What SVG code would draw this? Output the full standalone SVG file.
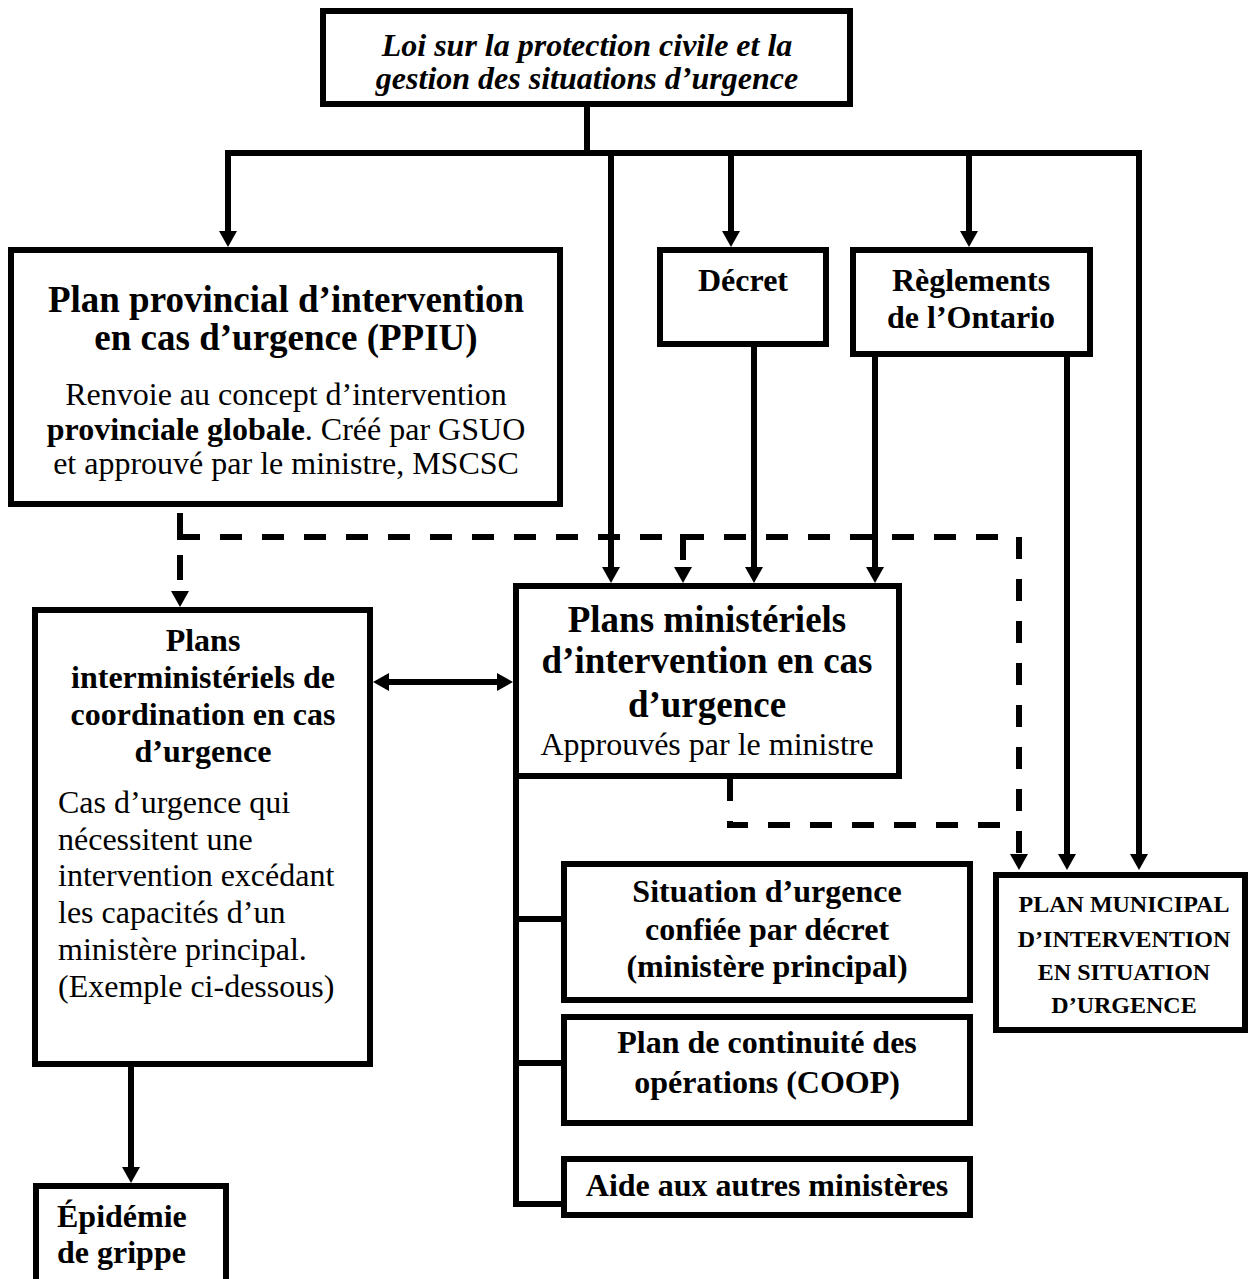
<svg xmlns="http://www.w3.org/2000/svg" width="1254" height="1279" viewBox="0 0 1254 1279">
  <style>
    .box { fill: #fff; stroke: #000; stroke-width: 6; }
    .wire { fill: none; stroke: #000; stroke-width: 6; stroke-linejoin: miter; stroke-linecap: butt; }
    .dash { fill: none; stroke: #000; stroke-width: 6; stroke-dasharray: 22 20; }
    text { font-family: "Liberation Serif", "Times New Roman", serif; fill: #000; }
    .c { text-anchor: middle; }
    .h37 { font-size: 37px; font-weight: bold; }
    .h32 { font-size: 32px; font-weight: bold; }
    .b32 { font-size: 32px; }
    .caps { font-size: 24px; font-weight: bold; }
    .law { font-size: 32px; font-weight: bold; font-style: italic; }
  </style>
  <defs>
    <marker id="arr" viewBox="0 0 16 18" refX="6" refY="9" markerWidth="16" markerHeight="18" markerUnits="userSpaceOnUse" orient="auto-start-reverse">
      <path d="M0,0 L16,9 L0,18 Z" fill="#000"/>
    </marker>
  </defs>
  <rect width="1254" height="1279" fill="#fff"/>

  <!-- connectors -->
  <g id="connectors">
    <path class="wire" d="M587,107 V153"/>
    <path class="wire" d="M587,153 H228 V237" marker-end="url(#arr)"/>
    <path class="wire" d="M587,153 H1139 V860" marker-end="url(#arr)"/>
    <path class="wire" d="M611,153 V573" marker-end="url(#arr)"/>
    <path class="wire" d="M731,153 V237" marker-end="url(#arr)"/>
    <path class="wire" d="M969,153 V237" marker-end="url(#arr)"/>
    <path class="wire" d="M754,347 V573" marker-end="url(#arr)"/>
    <path class="wire" d="M875,345 V573" marker-end="url(#arr)"/>
    <path class="wire" d="M1067,345 V860" marker-end="url(#arr)"/>
    <path class="wire" d="M383,682 H503" marker-start="url(#arr)" marker-end="url(#arr)"/>
    <path class="wire" d="M131,1067 V1173" marker-end="url(#arr)"/>
    <path class="wire" d="M516,779 V1204 H561"/>
    <path class="wire" d="M516,919 H561"/>
    <path class="wire" d="M516,1063 H561"/>
    <!-- dashed links -->
    <path class="wire" d="M180,513 V537 H200"/>
    <path class="dash" d="M220,537 H1001"/>
    <path class="dash" d="M180,555 V597" style="stroke-dasharray:25 60" marker-end="url(#arr)"/>
    <path class="dash" d="M683,534 V573" style="stroke-dasharray:26 60" marker-end="url(#arr)"/>
    <path class="dash" d="M1019,537 V860" marker-end="url(#arr)"/>
    <path class="dash" d="M730,779 V825 H1001"/>
  </g>

  <g id="loi">
    <rect class="box" x="323" y="11" width="527" height="93"/>
    <text class="law c" x="587" y="56">Loi sur la protection civile et la</text>
    <text class="law c" x="587" y="89">gestion des situations d’urgence</text>
  </g>

  <g id="ppiu">
    <rect class="box" x="11" y="250" width="549" height="254"/>
    <text class="h37 c" x="286" y="312">Plan provincial d’intervention</text>
    <text class="h37 c" x="286" y="350">en cas d’urgence (PPIU)</text>
    <text class="b32 c" x="286" y="405">Renvoie au concept d’intervention</text>
    <text class="b32 c" x="286" y="440"><tspan font-weight="bold">provinciale globale</tspan>. Créé par GSUO</text>
    <text class="b32 c" x="286" y="474">et approuvé par le ministre, MSCSC</text>
  </g>

  <g id="decret">
    <rect class="box" x="660" y="250" width="166" height="94"/>
    <text class="h32 c" x="743" y="291">Décret</text>
  </g>

  <g id="reglements">
    <rect class="box" x="853" y="250" width="237" height="104"/>
    <text class="h32 c" x="971" y="291">Règlements</text>
    <text class="h32 c" x="971" y="328">de l’Ontario</text>
  </g>

  <g id="interministeriels">
    <rect class="box" x="35" y="610" width="335" height="454"/>
    <text class="h32 c" x="203" y="651">Plans</text>
    <text class="h32 c" x="203" y="688">interministériels de</text>
    <text class="h32 c" x="203" y="725">coordination en cas</text>
    <text class="h32 c" x="203" y="762">d’urgence</text>
    <text class="b32" x="58" y="813">Cas d’urgence qui</text>
    <text class="b32" x="58" y="850">nécessitent une</text>
    <text class="b32" x="58" y="886">intervention excédant</text>
    <text class="b32" x="58" y="923">les capacités d’un</text>
    <text class="b32" x="58" y="960">ministère principal.</text>
    <text class="b32" x="58" y="997">(Exemple ci-dessous)</text>
  </g>

  <g id="ministeriels">
    <rect class="box" x="516" y="586" width="383" height="190"/>
    <text class="h37 c" x="707" y="632">Plans ministériels</text>
    <text class="h37 c" x="707" y="673">d’intervention en cas</text>
    <text class="h37 c" x="707" y="717">d’urgence</text>
    <text class="b32 c" x="707" y="755">Approuvés par le ministre</text>
  </g>

  <g id="situation">
    <rect class="box" x="564" y="864" width="406" height="136"/>
    <text class="h32 c" x="767" y="902">Situation d’urgence</text>
    <text class="h32 c" x="767" y="940">confiée par décret</text>
    <text class="h32 c" x="767" y="977">(ministère principal)</text>
  </g>

  <g id="coop">
    <rect class="box" x="564" y="1017" width="406" height="106"/>
    <text class="h32 c" x="767" y="1053">Plan de continuité des</text>
    <text class="h32 c" x="767" y="1093">opérations (COOP)</text>
  </g>

  <g id="aide">
    <rect class="box" x="564" y="1159" width="406" height="56"/>
    <text class="h32 c" x="767" y="1196">Aide aux autres ministères</text>
  </g>

  <g id="municipal">
    <rect class="box" x="996" y="875" width="249" height="155"/>
    <text class="caps c" x="1124" y="912">PLAN MUNICIPAL</text>
    <text class="caps c" x="1124" y="947">D’INTERVENTION</text>
    <text class="caps c" x="1124" y="980">EN SITUATION</text>
    <text class="caps c" x="1124" y="1013">D’URGENCE</text>
  </g>

  <g id="epidemie">
    <rect class="box" x="36" y="1186" width="190" height="110"/>
    <text class="h32" x="57" y="1227">Épidémie</text>
    <text class="h32" x="57" y="1263">de grippe</text>
  </g>
</svg>
